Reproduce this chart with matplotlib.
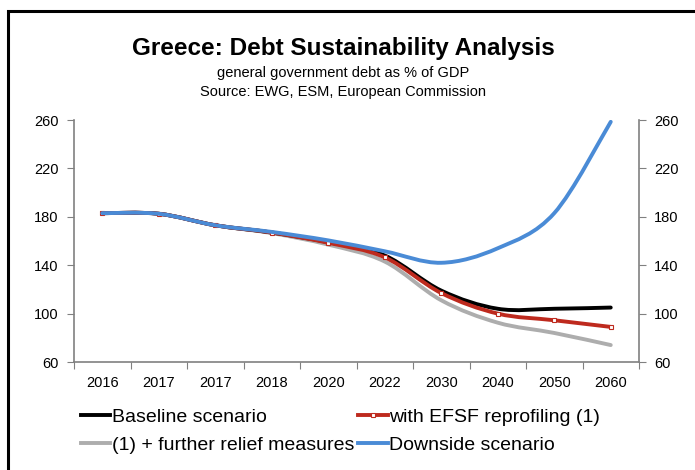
import numpy as np
import matplotlib.pyplot as plt
from matplotlib.path import Path
from matplotlib.patches import PathPatch, Rectangle
from matplotlib.lines import Line2D

plt.rcParams['font.family'] = ['Liberation Sans', 'DejaVu Sans']

years = ['2016', '2017', '2017', '2018', '2020', '2022', '2030', '2040', '2050', '2060']
baseline = [183, 182.5, 173, 167, 159, 148, 119, 104, 104, 105]
efsf = [183, 182.5, 173, 167, 158.5, 146.5, 117, 100, 94.5, 89]
relief = [183, 182.5, 173, 166.5, 157, 143, 111, 92.5, 84, 74]
downside = [183, 182.5, 173, 167.5, 160.5, 151.5, 142, 154, 183, 258.5]

c_black = '#000000'
c_red = '#BE2A1E'
c_gray = '#ADADAD'
c_blue = '#4A8BD6'


def smooth_path(xs, ys):
    # cubic bezier through each point, excel-style smoothing
    pts = np.column_stack([xs, ys]).astype(float)
    n = len(pts)
    verts = [pts[0]]
    codes = [Path.MOVETO]
    for i in range(n - 1):
        p0 = pts[max(i - 1, 0)]
        p1 = pts[i]
        p2 = pts[i + 1]
        p3 = pts[min(i + 2, n - 1)]
        verts += [p1 + (p2 - p0) / 6, p2 - (p3 - p1) / 6, p2]
        codes += [Path.CURVE4] * 3
    return Path(verts, codes)


fig = plt.figure(figsize=(6.95, 4.7), dpi=100)
fig.patches.append(Rectangle((8 / 695, -0.1), 1.2, 1 - 11 / 470 + 0.1,
                             transform=fig.transFigure, fill=False,
                             edgecolor='black', lw=2.2))

ax = fig.add_axes([74 / 695, 108 / 470, 565 / 695, 242 / 470])
x = np.arange(len(years))

lw = 2.8
for vals, col, z in [(relief, c_gray, 2), (baseline, c_black, 3),
                     (efsf, c_red, 4), (downside, c_blue, 6)]:
    ax.add_patch(PathPatch(smooth_path(x, vals), fill=False, edgecolor=col,
                           lw=lw, capstyle='round', joinstyle='round', zorder=z))
ax.plot(x, efsf, ls='none', marker='s', ms=3, mfc='white', mec=c_red,
        mew=0.8, zorder=5)

ax.set_xlim(-0.5, len(years) - 0.5)
ax.set_ylim(60, 260)
ax.set_yticks(range(60, 261, 40))
ax.set_xticks(np.arange(-0.5, len(years), 1))
ax.set_xticklabels([])
ax.set_xticks(x, minor=True)
ax.set_xticklabels(years, minor=True)
ax.tick_params(axis='x', which='major', length=5, direction='out', color='#808080')
ax.tick_params(axis='x', which='minor', length=0, pad=10, labelsize=10.5)
ax.tick_params(axis='y', length=5, direction='out', color='#808080',
               labelsize=10.5, pad=6)
for side in ['top', 'right']:
    ax.spines[side].set_visible(False)
for side in ['left', 'bottom']:
    ax.spines[side].set_color('#808080')
    ax.spines[side].set_linewidth(1.2)

ax2 = ax.twinx()
ax2.set_ylim(60, 260)
ax2.set_yticks(range(60, 261, 40))
ax2.tick_params(axis='y', length=5, direction='out', color='#808080',
                labelsize=10.5, pad=6)
for side in ['top', 'left', 'bottom']:
    ax2.spines[side].set_visible(False)
ax2.spines['right'].set_color('#808080')
ax2.spines['right'].set_linewidth(1.2)

fig.text(343 / 695, 1 - 48 / 470, 'Greece: Debt Sustainability Analysis',
         ha='center', va='center', fontsize=17.5, fontweight='bold')
fig.text(343 / 695, 1 - 73 / 470, 'general government debt as % of GDP',
         ha='center', va='center', fontsize=10.5)
fig.text(343 / 695, 1 - 92 / 470, 'Source: EWG, ESM, European Commission',
         ha='center', va='center', fontsize=10.5)

handles = [Line2D([], [], color=c_black, lw=lw),
           Line2D([], [], color=c_gray, lw=lw),
           Line2D([], [], color=c_red, lw=lw, marker='s', ms=3, mfc='white',
                  mec=c_red, mew=0.8, markevery=[1]),
           Line2D([], [], color=c_blue, lw=lw)]
labels = ['Baseline scenario', '(1) + further relief measures',
          'with EFSF reprofiling (1)', 'Downside scenario']
fig.legend(handles, labels, loc='upper left', ncol=2, frameon=False,
           bbox_to_anchor=(81 / 695, 1 - 408 / 470), fontsize=14,
           handlelength=1.5, handletextpad=0.1, columnspacing=0.2,
           labelspacing=0.55, borderpad=0, borderaxespad=0)

fig.savefig('out.png', dpi=100)
